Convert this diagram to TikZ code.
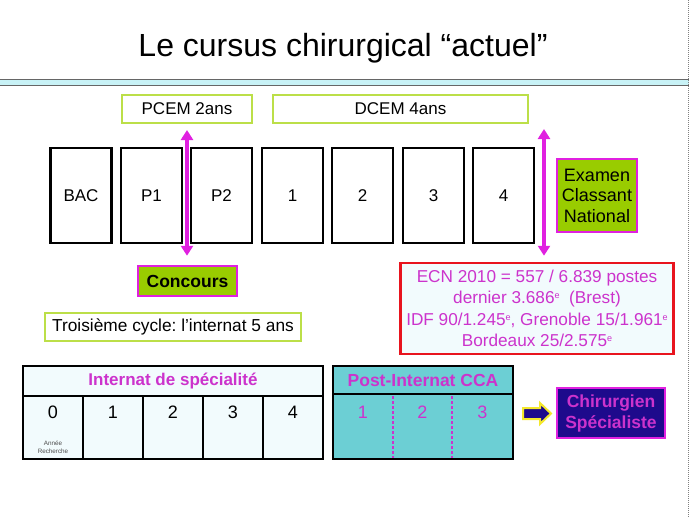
\documentclass[tikz,border=0pt]{standalone}
\usepackage{fontspec}
\setmainfont{Liberation Sans}
\usetikzlibrary{arrows.meta}
\frenchspacing
\definecolor{lgreen}{HTML}{BCDF48}
\definecolor{fgreen}{HTML}{99CC00}
\definecolor{mag}{HTML}{E020E0}
\definecolor{tmag}{HTML}{CC33CC}
\definecolor{navy}{HTML}{1E0A8C}
\definecolor{turq}{HTML}{6CCFD4}
\definecolor{pale}{HTML}{F2FBFD}
\definecolor{band}{HTML}{C8F2F6}
\definecolor{ecnred}{HTML}{E8141E}
\definecolor{ayellow}{HTML}{F4E82C}
\newcommand\supe{\raisebox{0.55ex}{\fontsize{9}{9}\selectfont e}}
\tikzset{
  fs/.style={font=\fontsize{#1}{20}\selectfont},
  yearbox/.style={draw=black,line width=2.5pt,minimum width=61pt,minimum height=95pt,inner sep=0pt,fs=17},
  greenbox/.style={draw=lgreen,line width=2pt,inner sep=0pt,fs=17},
  greenfill/.style={draw=mag,fill=fgreen,line width=2.5pt,inner sep=0pt},
  bigarrow/.style={draw=mag,line width=4pt,{Triangle[length=10pt,width=12pt]}-{Triangle[length=10pt,width=12pt]}},
  cell/.style={inner sep=0pt,fs=18},
}
\begin{document}
\begin{tikzpicture}[x=1pt,y=-1pt]
\useasboundingbox (0,0) rectangle (689,517);
% title band
\node[fs=32] (title) at (343,48) {Le cursus chirurgical ``actuel''};
\draw[draw=gray!80!black,fill=band,line width=0.8pt] (-1,79) rectangle (690,85);
\draw[gray,line width=1pt,densely dotted] (688,0) -- (688,517);
% top boxes
\node[greenbox,minimum width=130pt,minimum height=28pt] (pcem) at (187,109) {PCEM 2ans};
\node[greenbox,minimum width=255pt,minimum height=28pt] (dcem) at (400.5,109) {DCEM 4ans};
% year boxes
\node[yearbox] (bac) at (81,195.5) {BAC};
\node[yearbox] (p1) at (151.5,195.5) {P1};
\node[yearbox] (p2) at (221.5,195.5) {P2};
\node[yearbox] (d1) at (292.5,195.5) {1};
\node[yearbox] (d2) at (362.5,195.5) {2};
\node[yearbox] (d3) at (433.5,195.5) {3};
\node[yearbox] (d4) at (503.5,195.5) {4};
% concours
\node[greenfill,minimum width=99pt,minimum height=30pt,font=\fontsize{17.5}{20}\selectfont\bfseries] (conc) at (187.5,281) {Concours};
\draw[bigarrow,shorten <=6pt,shorten >=9pt] (pcem.south) -- (pcem.south |- conc.north);
% ECN
\node[greenfill,minimum width=80pt,minimum height=73pt,align=center,font=\fontsize{18}{20.5}\selectfont] (exam) at (597,195.5) {Examen\\Classant\\National};
\node[draw=ecnred,fill=pale,line width=2.5pt,minimum width=273pt,minimum height=91pt,inner sep=0pt,align=center,text=tmag,font=\fontsize{17.2}{21.5}\selectfont] (ecn) at (537,308.5)
 {ECN 2010 = 557 / 6.839 postes\\dernier 3.686\supe~~(Brest)\\IDF 90/1.245\supe, Grenoble 15/1.961\supe\\Bordeaux 25/2.575\supe};
\coordinate (a2top) at (544,129);
\draw[bigarrow,shorten >=6pt] (a2top) -- (ecn.north -| a2top);
% troisieme cycle
\node[greenbox,minimum width=256pt,minimum height=28pt,fs=17.3] (trois) at (173,327) {Troisième cycle: l’internat 5 ans};
% internat table
\draw[fill=pale,line width=2.5pt] (23,366) rectangle (323,459);
\draw[line width=2.5pt] (23,396) -- (323,396);
\foreach \x in {83,143,203,263} \draw[line width=2.5pt] (\x,396) -- (\x,459);
\node[cell,text=tmag,font=\fontsize{17}{19}\selectfont\bfseries] (inth) at (173,381) {Internat de spécialité};
\node[cell] (i0) at (53,412) {0};
\node[cell] (i1) at (113,412) {1};
\node[cell] (i2) at (173,412) {2};
\node[cell] (i3) at (233,412) {3};
\node[cell] (i4) at (293,412) {4};
\node[inner sep=0pt,align=center,text=black!70,font=\fontsize{6.3}{8}\selectfont] (rech) at (53,447) {Année\\Recherche};
% post internat table
\draw[fill=turq,line width=2.5pt] (333,366) rectangle (513,459);
\draw[line width=2.5pt] (333,394) -- (513,394);
\foreach \x in {393,452} \draw[tmag,line width=2.5pt,dash pattern=on 2.5pt off 2.5pt] (\x,396) -- (\x,458);
\node[cell,text=tmag,font=\fontsize{17.5}{19}\selectfont\bfseries] (posth) at (423,380) {Post-Internat CCA};
\node[cell,text=tmag] (c1) at (363,412) {1};
\node[cell,text=tmag] (c2) at (422.5,412) {2};
\node[cell,text=tmag] (c3) at (482.5,412) {3};
% arrow and final box
\node[draw=mag,fill=navy,line width=2.5pt,minimum width=108pt,minimum height=50pt,inner sep=0pt,align=center,text=tmag,font=\fontsize{17.5}{21}\selectfont\bfseries] (chir) at (611,413) {Chirurgien\\Spécialiste};
\draw[draw=ayellow,fill=navy,line width=2pt,line join=miter]
  (523,408) -- (540,408) -- (540,403) -- (551,413.5) -- (540,424) -- (540,419) -- (523,419) -- cycle;
\end{tikzpicture}
\end{document}
